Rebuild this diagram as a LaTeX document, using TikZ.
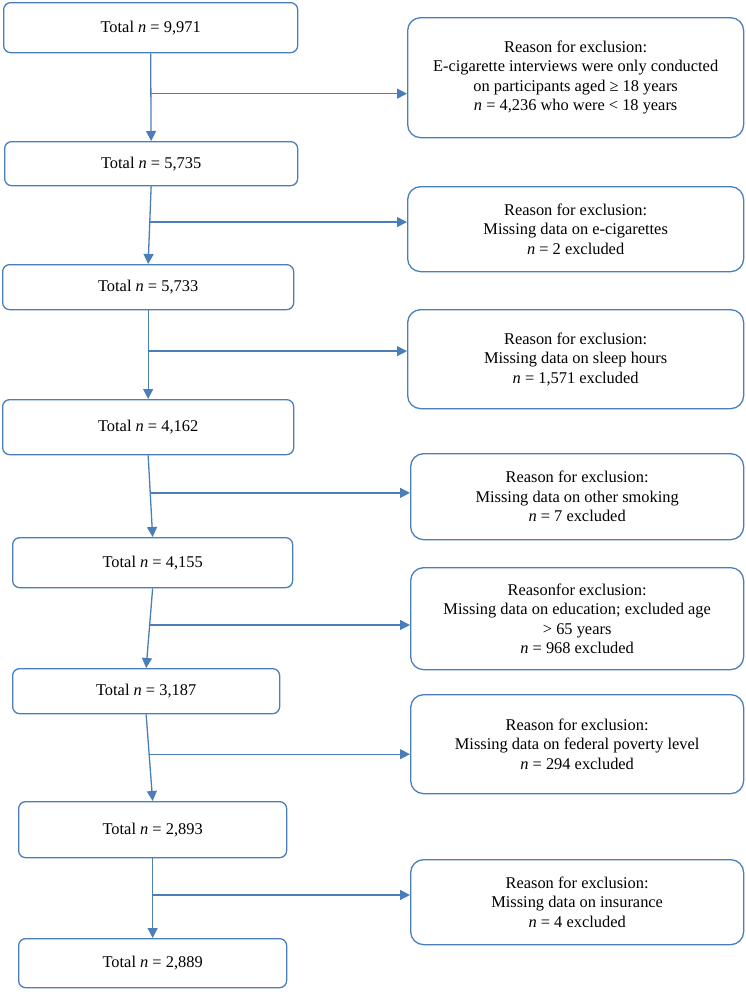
\documentclass[tikz,border=0pt]{standalone}
\usepackage{fontspec}
\setmainfont{Liberation Serif}
\usetikzlibrary{arrows.meta,calc}
\definecolor{flowblue}{RGB}{74,126,187}
\tikzset{
  box/.style={rectangle, draw=flowblue, line width=1.3pt, anchor=north west, align=center, inner sep=2pt, font=\fontsize{16.4}{19.5}\selectfont},
  total/.style={box, rounded corners=7pt},
  excl/.style={box, rounded corners=13pt},
  arr/.style={-{Triangle[length=10pt,width=10pt]}, draw=flowblue, line width=1.3pt}
}

\begin{document}
\begin{tikzpicture}[x=1pt, y=-1pt]
\useasboundingbox (0,0) rectangle (746,1004);

% totals (left column)
\node[total, minimum width=294pt, minimum height=50pt] (t1) at (3,2) {Total \textit{n} = 9,971};
\node[total, minimum width=293pt, minimum height=44pt] (t2) at (4,141) {Total \textit{n} = 5,735};
\node[total, minimum width=291pt, minimum height=45pt] (t3) at (2,264) {Total \textit{n} = 5,733};
\node[total, minimum width=291pt, minimum height=55pt] (t4) at (2,399) {Total \textit{n} = 4,162};
\node[total, minimum width=280pt, minimum height=50pt] (t5) at (12,537) {Total \textit{n} = 4,155};
\node[total, minimum width=267pt, minimum height=45pt] (t6) at (12,668) {Total \textit{n} = 3,187};
\node[total, minimum width=268pt, minimum height=56pt] (t7) at (18,801) {Total \textit{n} = 2,893};
\node[total, minimum width=268pt, minimum height=49pt] (t8) at (18,938) {Total \textit{n} = 2,889};

% exclusions (right column)
\node[excl, minimum width=336pt, minimum height=120pt] (e1) at (407,17) {Reason for exclusion:\\E-cigarette interviews were only conducted\\on participants aged ≥ 18 years\\\textit{n} = 4,236 who were < 18 years};
\node[excl, minimum width=336pt, minimum height=85pt] (e2) at (407,186) {Reason for exclusion:\\Missing data on e-cigarettes\\\textit{n} = 2 excluded};
\node[excl, minimum width=336pt, minimum height=99pt] (e3) at (407,309) {Reason for exclusion:\\Missing data on sleep hours\\\textit{n} = 1,571 excluded};
\node[excl, minimum width=333pt, minimum height=86pt] (e4) at (410,453) {Reason for exclusion:\\Missing data on other smoking\\\textit{n} = 7 excluded};
\node[excl, minimum width=333pt, minimum height=102pt] (e5) at (410,567) {Reasonfor exclusion:\\Missing data on education; excluded age\\> 65 years\\\textit{n} = 968 excluded};
\node[excl, minimum width=333pt, minimum height=99pt] (e6) at (410,694) {Reason for exclusion:\\Missing data on federal poverty level\\\textit{n} = 294 excluded};
\node[excl, minimum width=333pt, minimum height=85pt] (e7) at (410,859) {Reason for exclusion:\\Missing data on insurance\\\textit{n} = 4 excluded};

\foreach \i/\j in {1/2,2/3,3/4,4/5,5/6,6/7,7/8}{
  \draw[arr] (t\i.south) -- (t\j.north);
  \coordinate (j\i) at ($(t\i.south)!0.46!(t\j.north)$);
  \draw[arr] (j\i) -- (j\i -| e\i.west);
}
\end{tikzpicture}
\end{document}
